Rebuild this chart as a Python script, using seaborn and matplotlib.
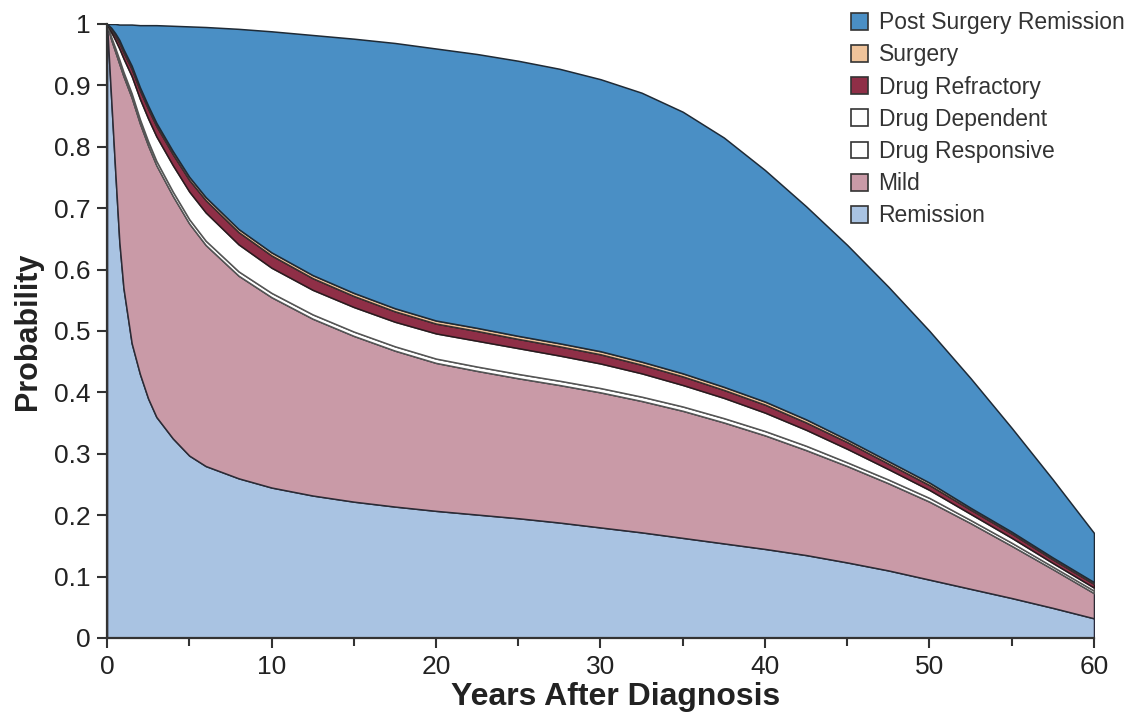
import numpy as np
import matplotlib
matplotlib.use("Agg")
import matplotlib.pyplot as plt
from matplotlib.patches import Patch
from matplotlib.ticker import MultipleLocator
import seaborn as sns

# ---- data ----
years = [0, 0.25, 0.5, 0.75, 1, 1.5, 2, 2.5, 3, 4, 5, 6, 8, 10, 12.5, 15, 17.5,
         20, 22.5, 25, 27.5, 30, 32.5, 35, 37.5, 40, 42.5, 45, 47.5, 50, 52.5,
         55, 57.5, 60]

remission = [1.0, 0.88, 0.76, 0.645, 0.57, 0.48, 0.43, 0.39, 0.36, 0.325, 0.297,
             0.28, 0.26, 0.245, 0.232, 0.222, 0.214, 0.207, 0.201, 0.195, 0.188,
             0.18, 0.172, 0.163, 0.154, 0.145, 0.135, 0.123, 0.11, 0.095, 0.08,
             0.065, 0.049, 0.032]
mild = [0.0, 0.095, 0.195, 0.29, 0.345, 0.40, 0.408, 0.412, 0.41, 0.395, 0.378,
        0.36, 0.33, 0.31, 0.288, 0.27, 0.254, 0.241, 0.234, 0.228, 0.224,
        0.22, 0.214, 0.207, 0.197, 0.185, 0.171, 0.157, 0.142, 0.127, 0.107,
        0.085, 0.063, 0.041]
drug_responsive = [0.0, 0.004, 0.006, 0.007, 0.007, 0.007, 0.007, 0.007, 0.007,
                   0.007, 0.007, 0.007, 0.007, 0.007, 0.007, 0.007, 0.007, 0.007,
                   0.007, 0.007, 0.007, 0.007, 0.007, 0.007, 0.007, 0.007, 0.007,
                   0.006, 0.006, 0.006, 0.005, 0.005, 0.004, 0.004]
drug_dependent = [0.0, 0.008, 0.013, 0.018, 0.022, 0.028, 0.033, 0.037, 0.040,
                  0.043, 0.045, 0.046, 0.044, 0.041, 0.040, 0.040, 0.040, 0.041,
                  0.042, 0.042, 0.041, 0.040, 0.038, 0.035, 0.033, 0.030, 0.026,
                  0.022, 0.017, 0.013, 0.010, 0.008, 0.006, 0.005]
drug_refractory = [0.0, 0.004, 0.007, 0.009, 0.010, 0.012, 0.014, 0.016, 0.017,
                   0.018, 0.019, 0.020, 0.020, 0.020, 0.019, 0.018, 0.017, 0.016,
                   0.016, 0.015, 0.015, 0.015, 0.014, 0.014, 0.013, 0.013, 0.012,
                   0.011, 0.009, 0.008, 0.007, 0.007, 0.006, 0.006]
surgery = [0.0, 0.003, 0.004, 0.005, 0.005, 0.005, 0.005, 0.005, 0.005, 0.005,
           0.005, 0.005, 0.005, 0.005, 0.005, 0.005, 0.005, 0.005, 0.005, 0.005,
           0.005, 0.005, 0.005, 0.005, 0.005, 0.005, 0.005, 0.004, 0.004, 0.004,
           0.003, 0.003, 0.003, 0.003]
total_alive = [1.0, 1.0, 1.0, 0.999, 0.999, 0.999, 0.998, 0.998, 0.998, 0.997,
               0.996, 0.995, 0.992, 0.988, 0.982, 0.976, 0.969, 0.96, 0.951,
               0.94, 0.927, 0.91, 0.888, 0.857, 0.815, 0.762, 0.703, 0.64,
               0.572, 0.50, 0.423, 0.342, 0.258, 0.171]

labels = ["Remission", "Mild", "Drug Responsive", "Drug Dependent",
          "Drug Refractory", "Surgery", "Post Surgery Remission"]
x_ticks = [0, 10, 20, 30, 40, 50, 60]
y_ticks = [0, 0.1, 0.2, 0.3, 0.4, 0.5, 0.6, 0.7, 0.8, 0.9, 1.0]
y_tick_labels = ["0", "0.1", "0.2", "0.3", "0.4", "0.5", "0.6", "0.7", "0.8",
                 "0.9", "1"]

# post-surgery remission fills the gap up to the total curve
lower_sum = (np.array(remission) + np.array(mild) + np.array(drug_responsive)
             + np.array(drug_dependent) + np.array(drug_refractory)
             + np.array(surgery))
post_surgery = np.clip(np.array(total_alive) - lower_sum, 0, None)

series = [remission, mild, drug_responsive, drug_dependent, drug_refractory,
          surgery, post_surgery]

colors = ["#a9c3e2", "#c99aa7", "#ffffff", "#ffffff", "#8f2f47", "#efc39a",
          "#4a8fc5"]
edges = ["#2b2b3d", "#2b2b35", "#555555", "#555555", "#2a1a1e", "#3a3030",
         "#1f2a35"]

sns.set_style("ticks")
plt.rcParams["font.family"] = ["Liberation Sans", "DejaVu Sans"]

fig = plt.figure(figsize=(11.24, 7.19), dpi=100)
ax = fig.add_axes([0.0952, 0.1127, 0.8781, 0.854])

polys = ax.stackplot(years, *series, colors=colors, labels=labels)
for p, ec in zip(polys, edges):
    p.set_edgecolor(ec)
    p.set_linewidth(1.1)

ax.set_xlim(0, 60)
ax.set_ylim(0, 1)
ax.set_xticks(x_ticks)
ax.xaxis.set_minor_locator(MultipleLocator(5))
ax.set_yticks(y_ticks)
ax.set_yticklabels(y_tick_labels)

for side in ["top", "right"]:
    ax.spines[side].set_visible(False)
for side in ["left", "bottom"]:
    ax.spines[side].set_color("#333333")
    ax.spines[side].set_linewidth(1.6)
    ax.spines[side].set_zorder(5)

ax.tick_params(axis="both", which="major", direction="out", length=7,
               width=1.5, color="#333333", labelsize=19, labelcolor="#222222",
               pad=5)
ax.tick_params(axis="x", which="minor", direction="out", length=6,
               width=1.5, color="#333333")

ax.set_xlabel("Years After Diagnosis", fontsize=23, fontweight="bold",
              color="#222222", labelpad=2)
ax.xaxis.set_label_coords(0.515, -0.072)
ax.set_ylabel("Probability", fontsize=22, fontweight="bold", color="#222222",
              labelpad=8)

handles = [Patch(facecolor=c, edgecolor="#333333", linewidth=1.2)
           for c in colors]
leg = fig.legend(handles[::-1], labels[::-1], loc="upper left",
                 bbox_to_anchor=(0.749, 0.997), frameon=False, fontsize=16.5,
                 handlelength=0.75, handleheight=0.75, handletextpad=0.45,
                 labelspacing=0.40, borderaxespad=0)
for t in leg.get_texts():
    t.set_color("#333333")

fig.savefig("out.png", dpi=100, facecolor="white")
